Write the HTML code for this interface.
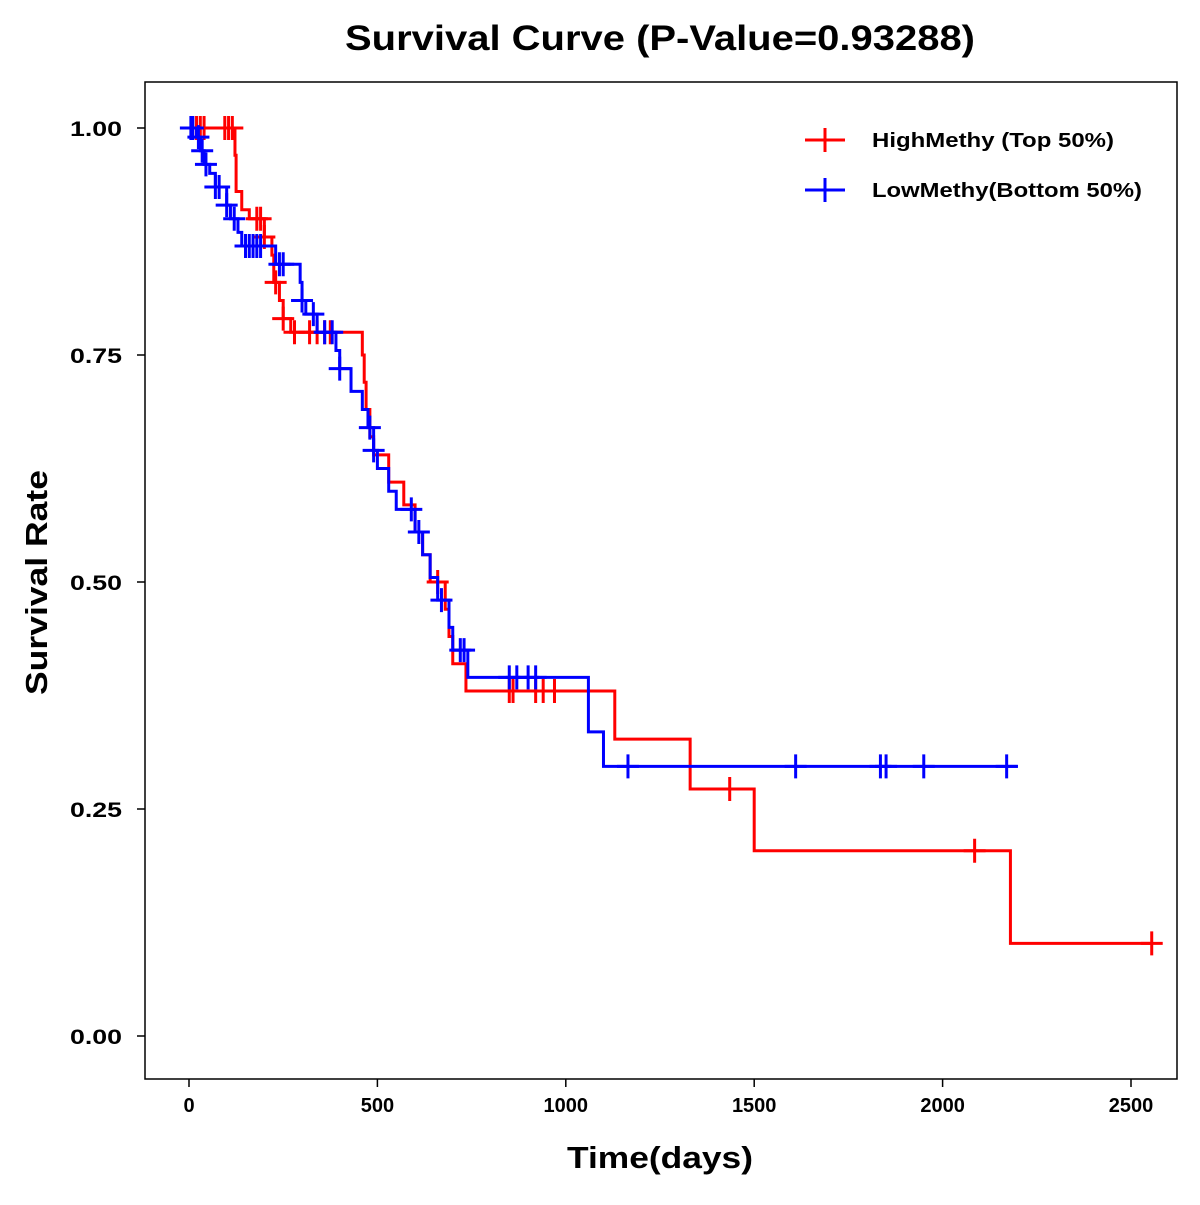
<!DOCTYPE html>
<html><head><meta charset="utf-8"><style>
body{margin:0;background:#fff}
svg text{font-family:"Liberation Sans",Arial,sans-serif;font-weight:bold}
</style></head><body>
<svg id="chart" width="1200" height="1200" viewBox="0 0 1200 1200">
<rect x="0" y="0" width="1200" height="1200" fill="#fff"/>
<text x="345" y="50" font-size="35" textLength="630" lengthAdjust="spacingAndGlyphs">Survival Curve (P-Value=0.93288)</text>
<rect x="145" y="82" width="1032" height="997" fill="none" stroke="#000" stroke-width="1.5"/>
<g id="xaxis"></g>
<g id="yaxis"></g>
<text x="567" y="1168" font-size="31" textLength="186" lengthAdjust="spacingAndGlyphs">Time(days)</text>
<text transform="translate(47,695) rotate(-90)" font-size="31" textLength="225" lengthAdjust="spacingAndGlyphs">Survival Rate</text>
<g id="series"></g>
<g>
<g>
<line x1="805" y1="140" x2="845" y2="140" stroke="#f00" stroke-width="3"/><line x1="825" y1="128" x2="825" y2="152" stroke="#f00" stroke-width="3"/>
<text x="872" y="147" font-size="20" textLength="242" lengthAdjust="spacingAndGlyphs">HighMethy (Top 50%)</text></g>
<g>
<line x1="805" y1="190" x2="845" y2="190" stroke="#00f" stroke-width="3"/><line x1="825" y1="178" x2="825" y2="202" stroke="#00f" stroke-width="3"/>
<text x="872" y="197" font-size="20" textLength="270" lengthAdjust="spacingAndGlyphs">LowMethy(Bottom 50%)</text></g>
</g>
</svg>
<script>
const xTicks=[0,500,1000,1500,2000,2500];
const yTicks=[0,0.25,0.5,0.75,1.0];
const yTickLabels=["0.00","0.25","0.50","0.75","1.00"];
const highTimes=[122,125,140,160,200,220,225,240,250,270,460,465,470,480,490,530,570,600,620,640,680,690,700,735,1130,1330,1500,2180];
const highSurv=[0.97,0.93,0.91,0.90,0.88,0.86,0.83,0.81,0.79,0.775,0.75,0.72,0.69,0.66,0.64,0.61,0.585,0.555,0.53,0.50,0.47,0.44,0.41,0.38,0.327,0.272,0.204,0.102];
const highEnd=2555;
const highCensor=[10,20,30,40,95,105,115,180,190,200,230,250,280,320,340,360,375,660,850,860,920,940,970,1435,2085,2555];
const lowTimes=[20,30,40,55,70,100,110,130,140,230,295,300,310,340,390,400,430,460,475,490,500,530,550,600,620,640,660,690,700,740,1060,1100];
const lowSurv=[0.99,0.975,0.96,0.95,0.935,0.915,0.90,0.885,0.87,0.85,0.83,0.81,0.795,0.775,0.755,0.735,0.71,0.69,0.67,0.645,0.625,0.60,0.58,0.555,0.53,0.505,0.48,0.45,0.425,0.395,0.335,0.297];
const lowEnd=2200;
const lowCensor=[5,10,25,35,45,70,80,100,120,150,160,170,180,190,240,250,300,330,360,380,400,480,490,590,610,670,720,730,850,870,900,920,1165,1610,1835,1850,1950,2170];

const NS="http://www.w3.org/2000/svg";
const X=t=>189+t*942/2500, Y=s=>1036-s*908;
function mk(tag,attrs,parent){const e=document.createElementNS(NS,tag);for(const k in attrs)e.setAttribute(k,attrs[k]);parent.appendChild(e);return e;}
const xa=document.getElementById('xaxis'),ya=document.getElementById('yaxis');
xTicks.forEach(t=>{
 const l=mk('line',{x1:X(t),x2:X(t),y1:1079,y2:1087,stroke:'#000','stroke-width':1.5},xa);
 
 
 const tx=mk('text',{x:X(t),y:1112,'font-size':20,'text-anchor':'middle'},xa);tx.textContent=t;
 
 
});
yTicks.forEach((v,i)=>{
 const l=mk('line',{x1:137,x2:145,y1:Y(v),y2:Y(v),stroke:'#000','stroke-width':1.5},ya);
 
 
 const tx=mk('text',{x:70,y:Y(v)+8,'font-size':21,textLength:52,lengthAdjust:'spacingAndGlyphs'},ya);tx.textContent=yTickLabels[i];
 
 
});
function survAt(times,surv,t){let s=1;for(let i=0;i<times.length;i++){if(times[i]<=t)s=surv[i];}return s;}
function draw(times,surv,end,cens,color,name){
 const g=mk('g',{},document.getElementById('series'));
 
 
 let d='M'+X(0)+','+Y(1);
 times.forEach((t,i)=>{d+=' H'+X(t)+' V'+Y(surv[i]);});
 d+=' H'+X(end);
 const p=mk('path',{d:d,fill:'none',stroke:color,'stroke-width':3},g);
 
 
 cens.forEach(t=>{
  const v=survAt(times,surv,t),cx=X(t),cy=Y(v);
  const c=mk('path',{d:`M${cx-11},${cy} H${cx+11} M${cx},${cy-12} V${cy+12}`,stroke:color,'stroke-width':3,fill:'none'},g);
  
  
 });
}
draw(highTimes,highSurv,highEnd,highCensor,'#f00','high-methy');
draw(lowTimes,lowSurv,lowEnd,lowCensor,'#00f','low-methy');
</script>
</body></html>
